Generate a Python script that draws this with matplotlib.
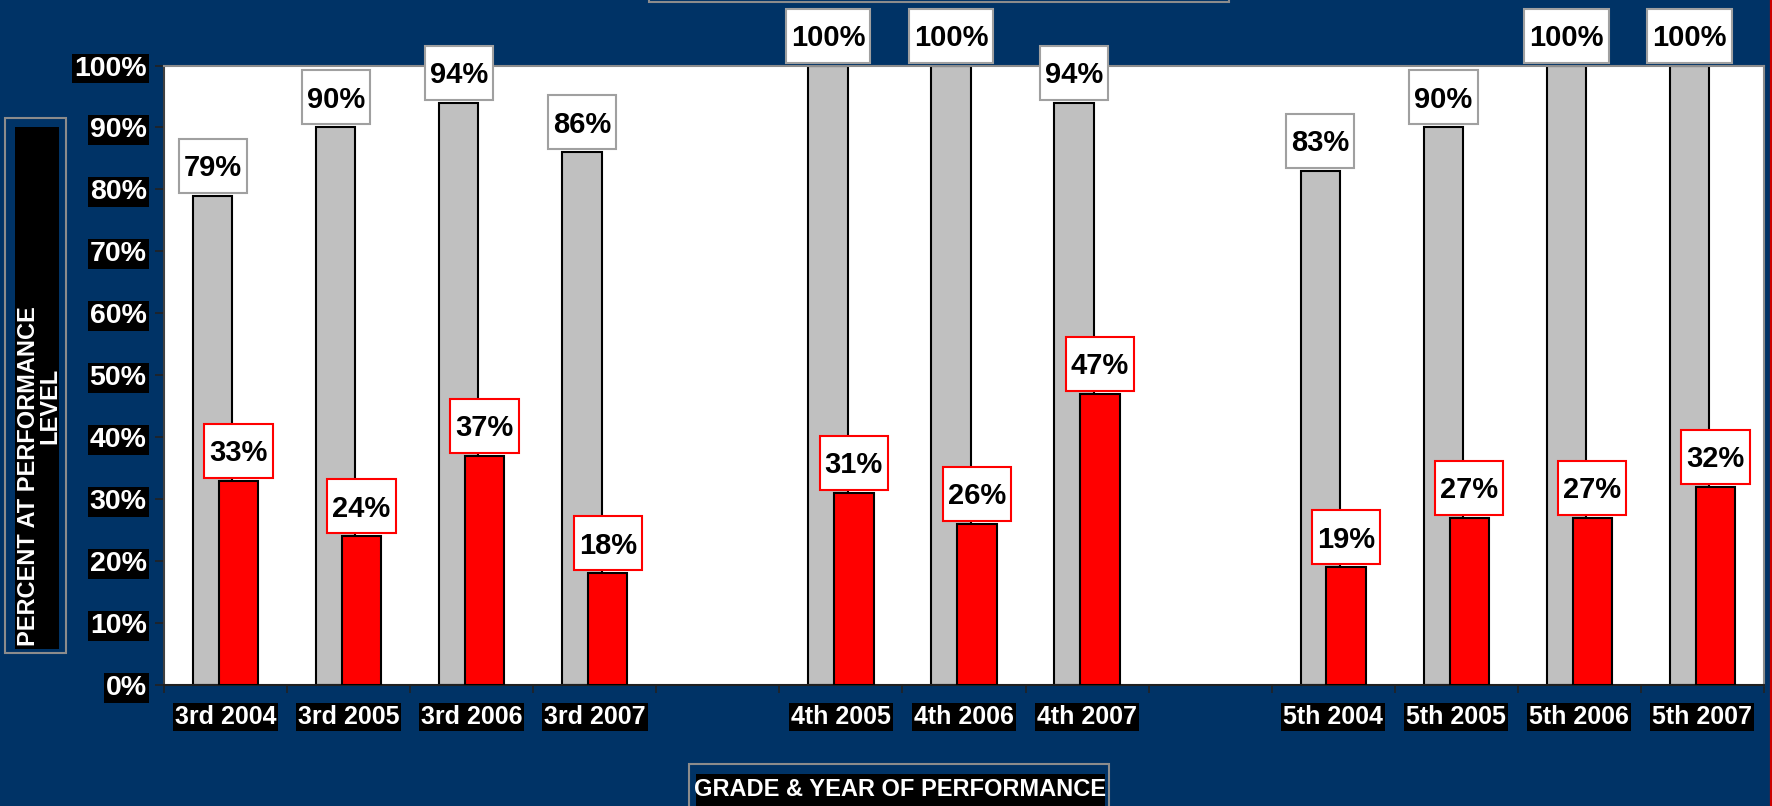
import matplotlib
matplotlib.use('Agg')
import matplotlib.pyplot as plt
from matplotlib.patches import Rectangle
from matplotlib.lines import Line2D
from matplotlib.transforms import IdentityTransform
import numpy as np

# ---------------- data ----------------
categories = ['3rd 2004', '3rd 2005', '3rd 2006', '3rd 2007', '',
              '4th 2005', '4th 2006', '4th 2007', '',
              '5th 2004', '5th 2005', '5th 2006', '5th 2007']
gray_vals = [79, 90, 94, 86, None, 100, 100, 94, None, 83, 90, 100, 100]
red_vals = [33, 24, 37, 18, None, 31, 26, 47, None, 19, 27, 27, 32]
y_ticks = [0, 10, 20, 30, 40, 50, 60, 70, 80, 90, 100]
x_title = 'GRADE & YEAR OF PERFORMANCE'
y_title_line1 = 'PERCENT AT PERFORMANCE'
y_title_line2 = 'LEVEL'

# ---------------- style ----------------
W, H = 1772, 806
DPI = 100
BG = '#003366'
GRAY = '#C0C0C0'
RED = '#FF0000'
plt.rcParams['font.family'] = ['Liberation Sans', 'DejaVu Sans']

fig = plt.figure(figsize=(W / DPI, H / DPI), dpi=DPI, facecolor=BG)
ax = fig.add_axes([164 / W, (H - 685) / H, 1600 / W, 619.5 / H])
ax.set_facecolor('white')

x = np.arange(len(categories))
g_idx = np.array([i for i, v in enumerate(gray_vals) if v is not None])
g_v = [gray_vals[i] for i in g_idx]
r_idx = np.array([i for i, v in enumerate(red_vals) if v is not None])
r_v = [red_vals[i] for i in r_idx]

OFF = 0.105
BW = 0.32
ax.bar(g_idx - OFF, g_v, width=BW, color=GRAY, edgecolor='black', linewidth=1.5, zorder=2)
ax.bar(r_idx + OFF, r_v, width=BW, color=RED, edgecolor='black', linewidth=1.5, zorder=3)

ax.set_xlim(-0.5, len(categories) - 0.5)
ax.set_ylim(0, 100)
ax.set_yticks(y_ticks)
ax.set_yticklabels([f'{t}%' for t in y_ticks])
ax.set_xticks(np.arange(-0.5, len(categories), 1.0))
ax.set_xticklabels([])
ax.set_xticks(x, minor=True)
ax.set_xticklabels(categories, minor=True)

ax.tick_params(axis='x', which='major', length=6, width=1.2, color='#222222', direction='out')
ax.tick_params(axis='x', which='minor', length=0, pad=14.5, labelsize=18, labelcolor='white')
ax.tick_params(axis='y', length=6.5, width=1.2, color='#222222', pad=6, labelsize=20.5, labelcolor='white')

for lab in list(ax.get_xticklabels(minor=True)) + list(ax.get_yticklabels()):
    lab.set_fontweight('bold')
    if lab.get_text():
        lab.set_bbox(dict(facecolor='black', edgecolor='none', pad=1.5))

for s in ['top', 'right']:
    ax.spines[s].set_color('#8C8C8C')
    ax.spines[s].set_linewidth(1.5)
ax.spines['left'].set_color('#404040')
ax.spines['left'].set_linewidth(1.5)
ax.spines['bottom'].set_color('#202020')
ax.spines['bottom'].set_linewidth(1.5)

# ---------------- value label boxes ----------------
renderer = fig.canvas.get_renderer()
FS = 21
fs_px = FS * DPI / 72.0
BOX_H = 54
GAP = 3


def value_label(xc, v, edge):
    px, py = ax.transData.transform((xc, v))
    cy = py + GAP + BOX_H / 2
    t = fig.text(px, cy - 0.716 * fs_px / 2, f'{v}%', transform=IdentityTransform(),
                 ha='center', va='baseline', fontsize=FS, fontweight='bold',
                 color='black', zorder=11)
    w = t.get_window_extent(renderer).width
    rect = Rectangle((px - w / 2 - 5, cy - BOX_H / 2), w + 10, BOX_H,
                     transform=IdentityTransform(), facecolor='white',
                     edgecolor=edge, linewidth=1.5, zorder=10)
    fig.add_artist(rect)


for i, v in zip(g_idx, g_v):
    value_label(i - OFF, v, '#A0A0A0')
for i, v in zip(r_idx, r_v):
    value_label(i + OFF, v, RED)

# ---------------- decorations (pixel coords, origin bottom-left) ----------------
I = IdentityTransform()

# title box remnant at the top
fig.add_artist(Rectangle((649, H - 2), 580, 60, transform=I, facecolor=BG,
                         edgecolor='#8C8C8C', linewidth=1.5, zorder=5))

# y-axis title box
fig.add_artist(Rectangle((5, H - 653), 61, 535, transform=I, facecolor='none',
                         edgecolor='#8C8C8C', linewidth=1.5, zorder=5))
fig.add_artist(Rectangle((15, H - 649), 44, 522, transform=I, facecolor='black',
                         edgecolor='none', zorder=6))
fig.text(29, H - 476, y_title_line1, transform=I, rotation=90, ha='center', va='center',
         fontsize=17, fontweight='bold', color='white', zorder=7)
fig.text(50, H - 406, y_title_line2, transform=I, rotation=90, ha='center', va='center',
         fontsize=17, fontweight='bold', color='white', zorder=7)

# x-axis title box
fig.add_artist(Rectangle((689, -20), 420, H - 764 + 20, transform=I, facecolor='none',
                         edgecolor='#8C8C8C', linewidth=1.5, zorder=5))
fig.add_artist(Rectangle((696, -20), 409, H - 774 + 20, transform=I, facecolor='black',
                         edgecolor='none', zorder=6))
fig.text(900, H - 789, x_title, transform=I, ha='center', va='center',
         fontsize=17, fontweight='bold', color='white', zorder=7)

# red edge line at the right
fig.add_artist(Line2D([1770.5, 1770.5], [0, H], transform=I, color='#CC0000',
                      linewidth=1.6, zorder=8))

fig.savefig('out.png', dpi=DPI, facecolor=BG)
